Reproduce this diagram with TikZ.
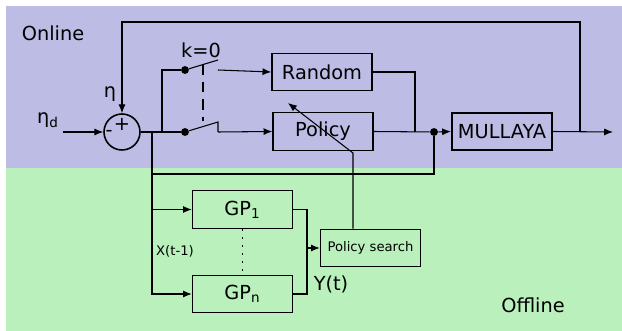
\documentclass[tikz,border=0pt]{standalone}
\usepackage{fontspec}
\setmainfont{DejaVu Sans}
\usepackage{tikz}
\usetikzlibrary{arrows.meta,calc}
\definecolor{onlinebg}{RGB}{188,188,228}
\definecolor{offlinebg}{RGB}{185,240,188}
\tikzset{
	blk/.style={draw, line width=0.8pt, minimum width=2cm, minimum height=0.75cm, inner sep=0pt, font=\fontsize{11}{13}\selectfont},
	wire/.style={line width=0.6pt},
	arr/.style={wire, -{Latex[length=5pt,width=4pt]}},
	pin/.style={fill=black, circle, inner sep=0pt, minimum size=4.5pt},
	lbl/.style={inner sep=0pt, font=\fontsize{11}{13}\selectfont},
}

\begin{document}
\begin{tikzpicture}[x=0.02cm, y=-0.02cm]
		%%%%% START %%%%%
		\useasboundingbox (0, 0) rectangle (622, 331);
		
		\fill[onlinebg] (6, 6) rectangle (622, 168);
		\fill[offlinebg] (6, 168) rectangle (622, 331);
		
		\node[lbl] (online) at (53, 33) {Online};
		\node[lbl] (offline) at (533, 305) {Offline};
		
		\node[draw, circle, line width=0.9pt, minimum size=0.72cm, inner sep=0pt] (sum) at (122, 132) {};
		\node[lbl] (plus) at (122, 124) {+};
		\node[lbl] (minus) at (109, 133) {-};
		
		\node[blk] (random) at (322, 72) {Random};
		\node[blk] (policy) at (323, 131.5) {Policy};
		\node[blk, line width=1.2pt] (mullaya) at (502, 131.5) {MULLAYA};
		\node[blk] (gp1) at (242.5, 209.5) {GP\textsubscript{1}};
		\node[blk] (gpn) at (242.5, 294) {GP\textsubscript{n}};
		\node[blk, font=\fontsize{7.5}{9}\selectfont] (search) at (370.5, 248) {Policy search};
		
		% switch contacts and junctions
		\node[pin] (swr) at (185, 70) {};
		\node[pin] (swp) at (185, 132) {};
		\node[pin] (jn) at (434, 132) {};
		\coordinate (split) at (152, 132);
		\coordinate (branch) at (162, 132);
		\coordinate (fb) at (580, 132);
		\coordinate (in) at (63, 132);
		\coordinate (out) at (613, 132);
		\coordinate (ymerge) at (307, 248);
		
		\node[lbl] (etad) at (48, 120) {η\textsubscript{d}};
		\node[lbl] (eta) at (110, 94) {η};
		\node[lbl] (kzero) at (201, 50) {k=0};
		\node[lbl, font=\fontsize{7.5}{9}\selectfont] (xin) at (175, 251) {X(t-1)};
		\node[lbl] (yout) at (331, 284) {Y(t)};
		
		% loop through the sum
		\draw[arr] (in) -- (sum.west);
		\draw[arr] (fb) -- (580, 22) -| (sum.north);
		\draw[wire] (sum.east) -- (swp);
		\draw[wire] (branch) |- (swr);
		
		% the two switches
		\draw[wire] (swr) -- (218, 60);
		\draw[wire] (swp) -- (218, 122) -- (218, 132);
		\draw[arr] (218, 132) -- (policy.west);
		\draw[arr] (218, 70) -- (random.west);
		\draw[wire, dash pattern=on 6pt off 4pt] (203, 64) -- (203, 121);
		
		\draw[wire] (random.east) -| (415, 132);
		\draw[wire] (policy.east) -- (jn);
		\draw[arr] (jn) -- (mullaya.west);
		\draw[arr] (mullaya.east) -- (out);
		
		% offline part
		\draw[wire] (jn) |- (152, 174) -- (split);
		\draw[arr] (split) |- (gp1.west);
		\draw[arr] (split) |- (gpn.west);
		\draw[wire, dash pattern=on 1pt off 3.6pt] (gp1.south) -- (gpn.north);
		
		\draw[wire] (gp1.east) -| (ymerge);
		\draw[wire] (gpn.east) -| (ymerge);
		\draw[arr] (ymerge) -- (search.west);
		
		\draw[arr] (search.north -| 353, 0) -- (353, 153) -- (288, 103);
		
		%%%%% END %%%%%
	\end{tikzpicture}
\end{document}
